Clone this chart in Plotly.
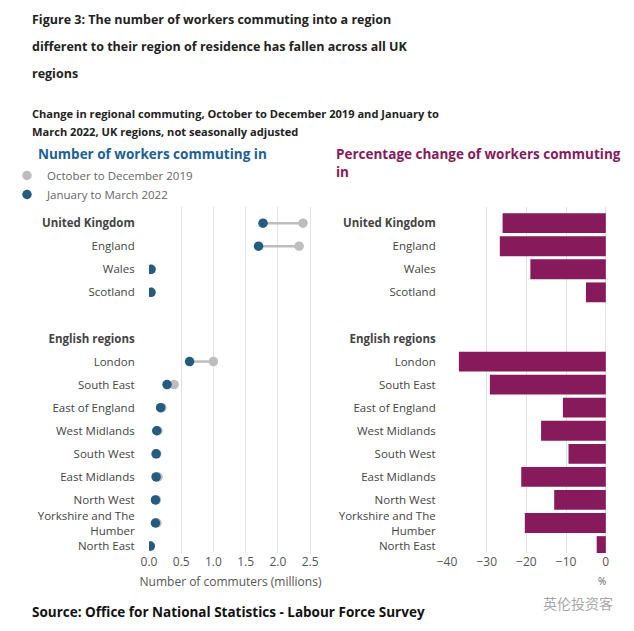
import plotly.graph_objects as go

# ---- data ----
row_labels = ["United Kingdom", "England", "Wales", "Scotland", "",
              "English regions", "London", "South East", "East of England",
              "West Midlands", "South West", "East Midlands", "North West",
              "Yorkshire and The<br>Humber", "North East"]
header_rows = ["United Kingdom", "English regions"]
commuters_2019 = [2.39, 2.33, 0.037, 0.032, None,
                  None, 1.00, 0.39, 0.20, 0.14, 0.12, 0.14, 0.115, 0.125, 0.02]
commuters_2022 = [1.77, 1.70, 0.030, 0.030, None,
                  None, 0.63, 0.28, 0.18, 0.12, 0.11, 0.11, 0.10, 0.10, 0.02]
pct_change = [-26.0, -26.7, -19.0, -5.0, None,
              None, -37.0, -29.2, -10.8, -16.3, -9.4, -21.3, -13.0, -20.4, -2.3]
left_ticks = [0, 0.5, 1.0, 1.5, 2.0, 2.5]
right_ticks = [-40, -30, -20, -10, 0]

pos = list(range(len(row_labels)))
tick_text = [f"<b>{l}</b>" if l in header_rows else l for l in row_labels]

BLUE = "#245b80"
GREY = "#bdbdbd"
PURPLE = "#871a5b"
FONT = "Open Sans"

fig = go.Figure()

# connector lines
lx, ly = [], []
for p, a, b in zip(pos, commuters_2019, commuters_2022):
    if a is not None and b is not None:
        lx += [a, b, None]
        ly += [p, p, None]
fig.add_trace(go.Scatter(x=lx, y=ly, mode="lines", line=dict(color=GREY, width=2.5),
                         showlegend=False, hoverinfo="skip", xaxis="x", yaxis="y"))
fig.add_trace(go.Scatter(x=commuters_2019, y=pos, mode="markers", name="October to December 2019",
                         marker=dict(color=GREY, size=9.5), xaxis="x", yaxis="y"))
fig.add_trace(go.Scatter(x=commuters_2022, y=pos, mode="markers", name="January to March 2022",
                         marker=dict(color=BLUE, size=9.5), xaxis="x", yaxis="y"))
fig.add_trace(go.Bar(x=pct_change, y=pos, orientation="h", marker=dict(color=PURPLE, line=dict(width=0)),
                     width=0.86, showlegend=False, xaxis="x2", yaxis="y2"))

ydom = [1 - 553 / 631, 1 - 207 / 631]
yrange = [14.3, -0.7]
axis_font = dict(family=FONT, size=12, color="#555555")
label_font = dict(family=FONT, size=11.5, color="#444444")

fig.update_layout(
    width=634, height=631,
    margin=dict(l=0, r=0, t=0, b=0, autoexpand=False),
    paper_bgcolor="white", plot_bgcolor="white",
    font=dict(family=FONT, color="#333333"),
    xaxis=dict(domain=[149 / 634, 312 / 634], range=[0, 2.53], tickvals=left_ticks,
               ticktext=["0.0", "0.5", "1.0", "1.5", "2.0", "2.5"],
               showgrid=True, gridcolor="#e2e2e2", gridwidth=1, zeroline=False,
               showline=False, tickfont=axis_font, anchor="y", automargin=False,
               ticks="",
               title=dict(text="Number of commuters (millions)", font=dict(family=FONT, size=12, color="#555555"),
                          standoff=8)),
    yaxis=dict(domain=ydom, range=yrange, tickvals=pos, ticktext=tick_text,
               showgrid=False, zeroline=False, showline=False, automargin=False,
               ticks="outside", ticklen=11, tickcolor="rgba(0,0,0,0)",
               tickfont=label_font, anchor="x"),
    xaxis2=dict(domain=[447 / 634, 607 / 634], range=[-40, 0.3], tickvals=right_ticks,
                showgrid=True, gridcolor="#e2e2e2", gridwidth=1, zeroline=False,
                showline=False, tickfont=axis_font, anchor="y2", automargin=False,
                ticks=""),
    yaxis2=dict(domain=ydom, range=yrange, tickvals=pos, ticktext=tick_text,
                showgrid=False, zeroline=False, showline=False, automargin=False,
                ticks="outside", ticklen=8, tickcolor="rgba(0,0,0,0)",
                tickfont=label_font, anchor="x2"),
    legend=dict(x=22 / 634, y=1 - 161 / 631, xanchor="left", yanchor="top",
                font=dict(family=FONT, size=11.5, color="#666666"),
                itemwidth=30, tracegroupgap=0, bgcolor="rgba(0,0,0,0)",
                indentation=-15),
    bargap=0.1,
)

T = dict(family=FONT, size=12.5, color="#222222")
ann = [
    dict(x=30 / 634, y=1 - 20 / 631, text="<b>Figure 3: The number of workers commuting into a region</b>", font=T),
    dict(x=30 / 634, y=1 - 46 / 631, text="<b>different to their region of residence has fallen across all UK</b>", font=T),
    dict(x=30 / 634, y=1 - 73 / 631, text="<b>regions</b>", font=T),
    dict(x=30 / 634, y=1 - 113 / 631,
         text="<b>Change in regional commuting, October to December 2019 and January to</b>",
         font=dict(family=FONT, size=11.1, color="#222222")),
    dict(x=30 / 634, y=1 - 131 / 631,
         text="<b>March 2022, UK regions, not seasonally adjusted</b>",
         font=dict(family=FONT, size=11.1, color="#222222")),
    dict(x=36 / 634, y=1 - 154 / 631, text="<b>Number of workers commuting in</b>",
         font=dict(family=FONT, size=13.5, color="#206095")),
    dict(x=334 / 634, y=1 - 154 / 631, text="<b>Percentage change of workers commuting</b>",
         font=dict(family=FONT, size=13.5, color=PURPLE)),
    dict(x=334 / 634, y=1 - 172 / 631, text="<b>in</b>",
         font=dict(family=FONT, size=13.5, color=PURPLE)),
    dict(x=602 / 634, y=1 - 581 / 631, xanchor="center", text="%",
         font=dict(family=FONT, size=10, color="#666666")),
    dict(x=30 / 634, y=1 - 612 / 631,
         text="<b>Source: Office for National Statistics - Labour Force Survey</b>",
         font=dict(family=FONT, size=13.5, color="#111111")),
    dict(x=615 / 634, y=1 - 603 / 631, xanchor="right",
         text="英伦投资客", font=dict(family="Noto Sans CJK SC", size=14, color="#a8a8a8")),
]
for a in ann:
    a.setdefault("xanchor", "left")
    a.update(xref="paper", yref="paper", showarrow=False, yanchor="middle", align="left")
fig.update_layout(annotations=ann)

fig.write_html("out.html", config={"displayModeBar": False},
               post_script="document.body.style.margin='0px';")
